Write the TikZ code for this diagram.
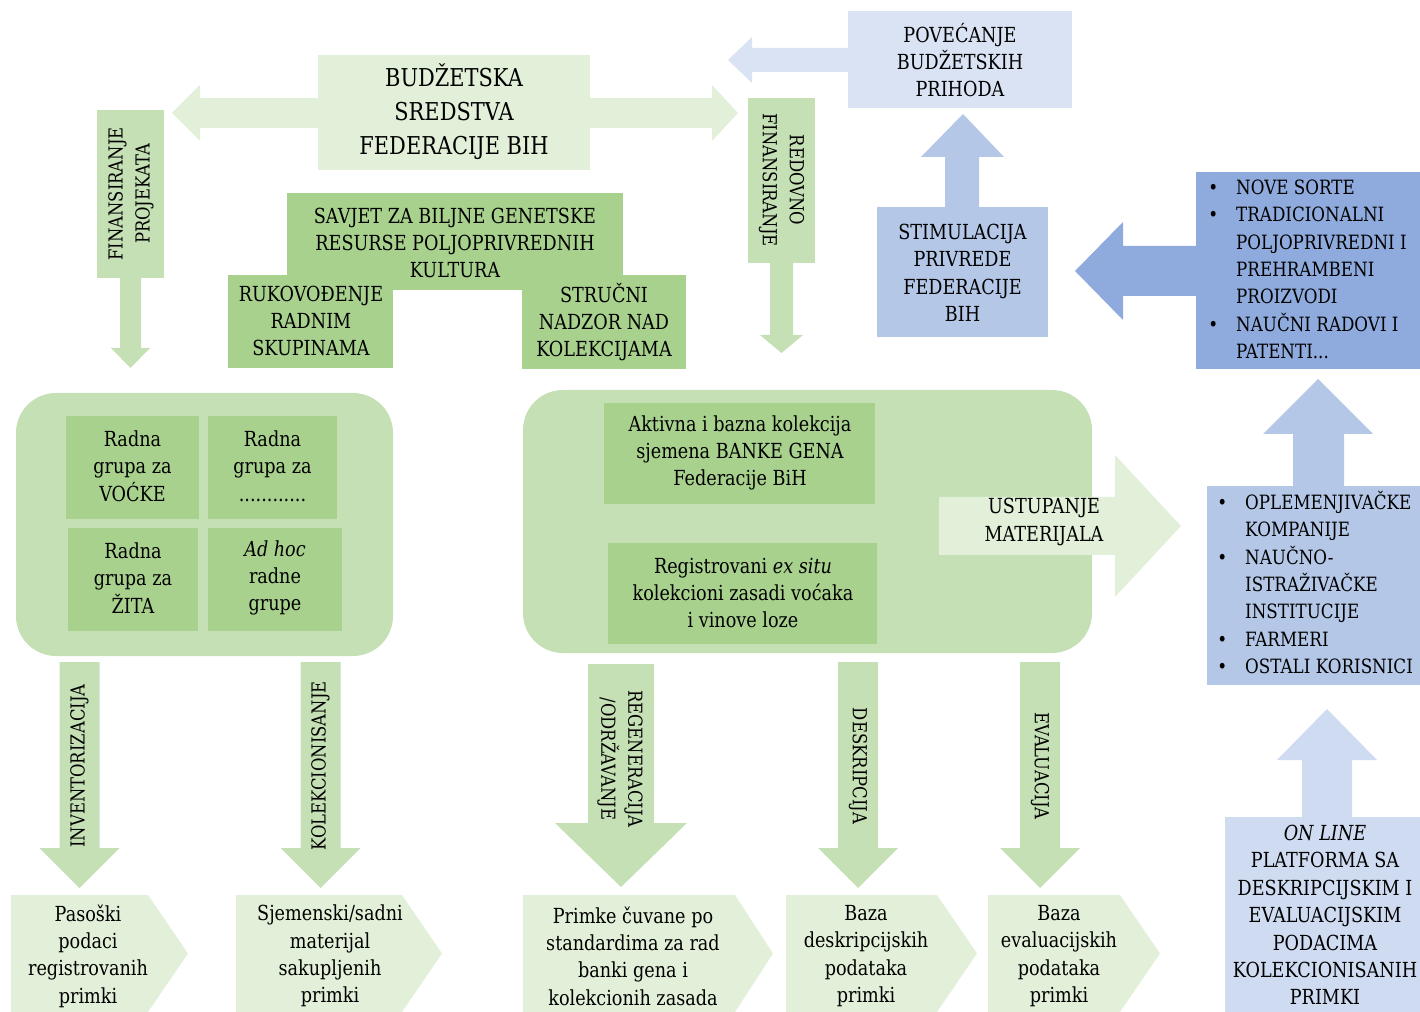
\documentclass[tikz,border=0pt]{standalone}
\usepackage{fontspec}
\setmainfont{DejaVu Serif}[FakeStretch=0.85]

\definecolor{grA}{HTML}{A9D18E}
\definecolor{grB}{HTML}{C5E0B4}
\definecolor{grC}{HTML}{E2F0D9}
\definecolor{blA}{HTML}{8FAADC}
\definecolor{blB}{HTML}{B4C7E7}
\definecolor{blC}{HTML}{DAE3F3}
\definecolor{blD}{HTML}{CFDBF1}

\begin{document}
\begin{tikzpicture}[x=0.2mm, y=-0.2mm,
    txt/.style={align=center, inner sep=0pt, text=black, font=\fontsize{11.8}{15.6}\selectfont},
    big txt/.style={txt, font=\fontsize{14}{19.4}\selectfont},
    arrow txt/.style={txt, font=\fontsize{11}{15.4}\selectfont},
    list txt/.style={align=left, inner sep=0pt, text=black, font=\fontsize{11.2}{15.6}\selectfont}]

    \useasboundingbox (0,0) rectangle (1420,1012);

    % Budget block with the double arrow
    \fill[grC] (172,113) -- (200,85) -- (200,98) -- (712,98) -- (712,85) -- (738,113)
        -- (712,141) -- (712,128) -- (200,128) -- (200,141) -- cycle;
    \fill[grC] (318,55) rectangle (590,170);
    \node[big txt] (budzet) at (454,112) {BUDŽETSKA\\SREDSTVA\\FEDERACIJE BIH};

    % Financing arrows
    \fill[grB] (97,110) rectangle (164,278);
    \fill[grB] (120,276) -- (141,276) -- (141,348) -- (150,348) -- (130.5,368) -- (111,348) -- (120,348) -- cycle;
    \node[arrow txt, rotate=90] (projekti) at (131,194) {FINANSIRANJE\\PROJEKATA};

    \fill[grB] (748,98) rectangle (815,263);
    \fill[grB] (770,261) -- (793,261) -- (793,335) -- (803,335) -- (781.5,353) -- (760,335) -- (770,335) -- cycle;
    \node[arrow txt, rotate=-90] (redovno) at (781.5,180) {REDOVNO\\FINANSIRANJE};

    % Council
    \fill[grA] (287,193) rectangle (623,290);
    \fill[grA] (228,275) rectangle (393,368);
    \fill[grA] (522,275) rectangle (686,369);
    \node[txt] (savjet) at (455,243) {SAVJET ZA BILJNE GENETSKE\\RESURSE POLJOPRIVREDNIH\\KULTURA};
    \node[txt] (rukovodjenje) at (311,321) {RUKOVOĐENJE\\RADNIM\\SKUPINAMA};
    \node[txt] (nadzor) at (604,322) {STRUČNI\\NADZOR NAD\\KOLEKCIJAMA};

    % Blue side
    \fill[blC] (728,60) -- (752,37) -- (752,48) -- (850,48) -- (850,72) -- (752,72) -- (752,83) -- cycle;
    \fill[blC] (848,11) rectangle (1072,108);
    \node[txt] (prihodi) at (960,60) {POVEĆANJE\\BUDŽETSKIH\\PRIHODA};

    \fill[blB] (963,114) -- (1004,157) -- (979,157) -- (979,210) -- (945,210) -- (945,157) -- (921,157) -- cycle;
    \fill[blB] (877,207) rectangle (1048,337);
    \node[txt] (stimulacija) at (962.5,273) {STIMULACIJA\\PRIVREDE\\FEDERACIJE\\BIH};

    \fill[blA] (1075,271) -- (1123,222) -- (1123,246) -- (1198,246) -- (1198,296) -- (1123,296) -- (1123,320) -- cycle;
    \fill[blA] (1196,172) rectangle (1420,369);
    \node[list txt, anchor=west] (ishodi) at (1208,271) {%
        \begin{tabular}{@{}l@{\hspace{3.6mm}}l@{}}
        \textbullet & NOVE SORTE\\
        \textbullet & TRADICIONALNI\\
                    & POLJOPRIVREDNI I\\
                    & PREHRAMBENI\\
                    & PROIZVODI\\
        \textbullet & NAUČNI RADOVI I\\
                    & PATENTI...
        \end{tabular}};

    \fill[blB] (1318,379) -- (1373,434) -- (1344,434) -- (1344,488) -- (1293,488) -- (1293,434) -- (1263,434) -- cycle;
    \fill[blB] (1207,486) rectangle (1420,685);
    \node[list txt, anchor=west] (korisnici) at (1217,586) {%
        \begin{tabular}{@{}l@{\hspace{3.6mm}}l@{}}
        \textbullet & OPLEMENJIVAČKE\\
                    & KOMPANIJE\\
        \textbullet & NAUČNO-\\
                    & ISTRAŽIVAČKE\\
                    & INSTITUCIJE\\
        \textbullet & FARMERI\\
        \textbullet & OSTALI KORISNICI
        \end{tabular}};

    \fill[blD] (1327,709) -- (1377,760) -- (1352,760) -- (1352,819) -- (1302,819) -- (1302,760) -- (1277,760) -- cycle;
    \fill[blD] (1225,817) rectangle (1420,1012);
    \node[txt] (platforma) at (1325,915) {\textit{ON LINE}\\PLATFORMA SA\\DESKRIPCIJSKIM I\\EVALUACIJSKIM\\PODACIMA\\KOLEKCIONISANIH\\PRIMKI};

    % Working groups
    \fill[grB, rounded corners=8mm] (16,393) rectangle (393,656);
    \fill[grA] (66,416) rectangle (199,519);
    \fill[grA] (208,416) rectangle (337,519);
    \fill[grA] (68,528) rectangle (198,631);
    \fill[grA] (208,528) rectangle (342,631);
    \node[txt] (vocke) at (132.5,466) {Radna\\grupa za\\VOĆKE};
    \node[txt] (ostale) at (272.5,466) {Radna\\grupa za\\............};
    \node[txt] (zita) at (133,578) {Radna\\grupa za\\ŽITA};
    \node[txt] (adhoc) at (275,578) {\textit{Ad hoc}\\radne\\grupe};

    % Collections
    \fill[grB, rounded corners=8mm] (523,390) rectangle (1092,653);
    \fill[grA] (604,403) rectangle (875,504);
    \fill[grA] (608,543) rectangle (877,644);
    \node[txt] (banka) at (740,453) {Aktivna i bazna kolekcija\\sjemena BANKE GENA\\Federacije BiH};
    \node[txt] (zasadi) at (743,593) {Registrovani \textit{ex situ}\\kolekcioni zasadi voćaka\\i vinove loze};

    \fill[grC] (939,497) -- (1115,497) -- (1115,455) -- (1181,526) -- (1115,597) -- (1115,555) -- (939,555) -- cycle;
    \node[txt] (ustupanje) at (1044,522) {USTUPANJE\\MATERIJALA};

    % Activities downwards
    \foreach \xc/\ang/\name/\lab in {79.5/90/inventar/INVENTORIZACIJA, 320.5/90/kolekcija/KOLEKCIONISANJE,
                                     858/-90/deskripcija/DESKRIPCIJA, 1040/-90/evaluacija/EVALUACIJA}
    {
        \fill[grB] (\xc-20,662) -- (\xc+20,662) -- (\xc+20,848) -- (\xc+40,848) -- (\xc,888)
            -- (\xc-40,848) -- (\xc-20,848) -- cycle;
        \node[arrow txt, rotate=\ang] (\name) at (\xc,766) {\lab};
    }
    \fill[grB] (588,664) -- (654,664) -- (654,823) -- (687,823) -- (621,887) -- (555,823) -- (588,823) -- cycle;
    \node[arrow txt, rotate=-90] (regeneracija) at (620,759) {REGENERACIJA\\/ODRŽAVANJE};

    % Results
    \foreach \xl/\xn/\xt/\xc/\name/\lab in {
        11/148/188/88/pasos/{Pasoški\\podaci\\registrovanih\\primki},
        236/402/442/330/materijal/{Sjemenski/sadni\\materijal\\sakupljenih\\primki},
        523/735/773/633/primke/{Primke čuvane po\\standardima za rad\\banki gena i\\kolekcionih zasada},
        786/937/977/866/bazaD/{Baza\\deskripcijskih\\podataka\\primki},
        988/1120/1160/1059/bazaE/{Baza\\evaluacijskih\\podataka\\primki}}
    {
        \fill[grC] (\xl,895) -- (\xn,895) -- (\xt,953.5) -- (\xn,1012) -- (\xl,1012) -- cycle;
        \node[txt] (\name) at (\xc,956) {\lab};
    }

\end{tikzpicture}
\end{document}
